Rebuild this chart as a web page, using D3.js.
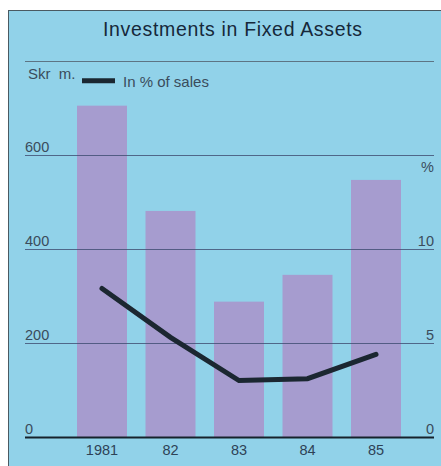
<!DOCTYPE html>
<html>
<head>
<meta charset="utf-8">
<script src="https://cdn.jsdelivr.net/npm/d3@7"></script>
<style>
  html, body { margin: 0; padding: 0; background: #ffffff; }
  svg { display: block; }
  text { font-family: "Liberation Sans", Arial, Helvetica, sans-serif; }
</style>
</head>
<body>
<svg id="chart" width="441" height="466"></svg>
<script>
// Investments in fixed assets, Skr m., with investments as % of sales
const years = ["1981", "82", "83", "84", "85"];
const investments = [705, 481, 288, 345, 547];
const pctOfSales = [7.9, 5.3, 3.0, 3.1, 4.4];
const leftTicks = [0, 200, 400, 600];
const rightTicks = [0, 5, 10];

const svg = d3.select("#chart");

// panel background (runs off the right and bottom edge)
svg.append("rect")
  .attr("x", 8.5).attr("y", 10.5)
  .attr("width", 500).attr("height", 500)
  .attr("fill", "#91d2e9")
  .attr("stroke", "#4a5a62").attr("stroke-width", 1);

const x = d3.scaleBand().domain(years).range([77, 401]).paddingInner(0.27).paddingOuter(0);
const y = d3.scaleLinear().domain([0, 600]).range([437, 155]);
const yPct = d3.scaleLinear().domain([0, 15]).range([437, 155]);

const gx0 = 25, gx1 = 434;
const labelColor = "#3a4c5c";

// title
svg.append("text")
  .attr("x", 103).attr("y", 35.5)
  .attr("font-size", 19.5)
  .attr("textLength", 259)
  .attr("lengthAdjust", "spacing")
  .attr("fill", "#16283a")
  .text("Investments in Fixed Assets");

// rule under the title
svg.append("line")
  .attr("x1", gx0).attr("x2", gx1).attr("y1", 61.5).attr("y2", 61.5)
  .attr("stroke", "#5d7484").attr("stroke-width", 1);

// unit label and legend
svg.append("text")
  .attr("x", 28).attr("y", 79)
  .attr("font-size", 15).attr("fill", labelColor)
  .attr("xml:space", "preserve")
  .text("Skr  m.");
svg.append("line")
  .attr("x1", 82).attr("x2", 115).attr("y1", 80.8).attr("y2", 80.8)
  .attr("stroke", "#1b2731").attr("stroke-width", 5);
svg.append("text")
  .attr("x", 123).attr("y", 86.5)
  .attr("font-size", 15).attr("fill", labelColor)
  .text("In % of sales");

// bars
svg.append("g").selectAll("rect")
  .data(years)
  .join("rect")
  .attr("x", d => x(d))
  .attr("width", x.bandwidth())
  .attr("y", (d, i) => y(investments[i]))
  .attr("height", (d, i) => y(0) - y(investments[i]))
  .attr("fill", "#a69ccf");

// gridlines (drawn over bars)
svg.append("g").selectAll("line")
  .data(leftTicks.filter(t => t > 0))
  .join("line")
  .attr("x1", gx0).attr("x2", gx1)
  .attr("y1", d => Math.round(y(d)) + 0.5).attr("y2", d => Math.round(y(d)) + 0.5)
  .attr("stroke", "#3f4d72").attr("stroke-width", 1).attr("opacity", 0.8);

// baseline
svg.append("line")
  .attr("x1", gx0).attr("x2", gx1).attr("y1", y(0) + 0.5).attr("y2", y(0) + 0.5)
  .attr("stroke", "#16222c").attr("stroke-width", 2);

// left axis labels
svg.append("g").selectAll("text")
  .data(leftTicks)
  .join("text")
  .attr("x", gx0).attr("y", d => y(d) - 3)
  .attr("font-size", 14.5).attr("fill", labelColor)
  .text(d => d);

// right axis labels
svg.append("g").selectAll("text")
  .data(rightTicks)
  .join("text")
  .attr("x", gx1).attr("y", d => yPct(d) - 3)
  .attr("text-anchor", "end")
  .attr("font-size", 14.5).attr("fill", labelColor)
  .text(d => d);
svg.append("text")
  .attr("x", gx1).attr("y", 172)
  .attr("text-anchor", "end")
  .attr("font-size", 14.5).attr("fill", labelColor)
  .text("%");

// year labels
svg.append("g").selectAll("text")
  .data(years)
  .join("text")
  .attr("x", d => x(d) + x.bandwidth() / 2)
  .attr("y", 455)
  .attr("text-anchor", "middle")
  .attr("font-size", 14.5).attr("fill", "#2e4256")
  .text(d => d);

// % of sales line
const line = d3.line()
  .x((d, i) => x(years[i]) + x.bandwidth() / 2)
  .y(d => yPct(d));
svg.append("path")
  .datum(pctOfSales)
  .attr("d", line)
  .attr("fill", "none")
  .attr("stroke", "#1b2731")
  .attr("stroke-width", 5)
  .attr("stroke-linecap", "round")
  .attr("stroke-linejoin", "miter");
</script>
</body>
</html>
